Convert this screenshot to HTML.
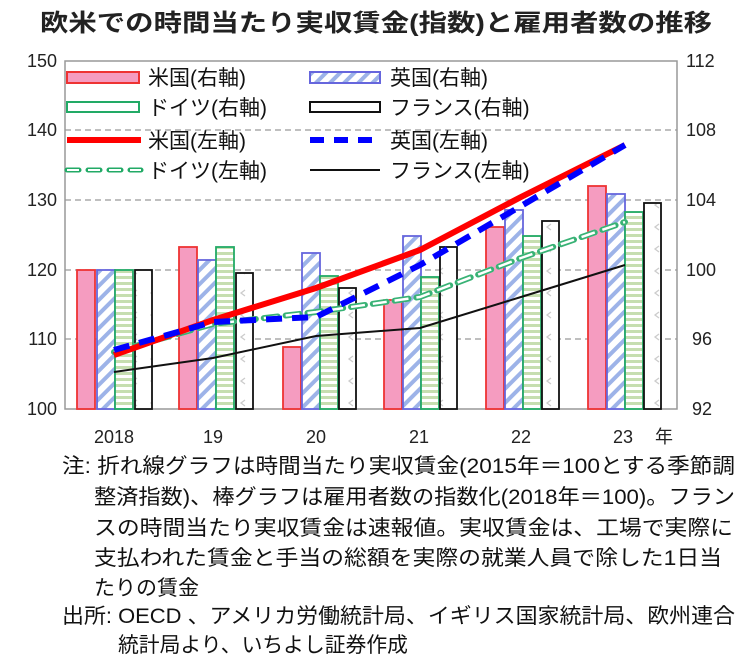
<!DOCTYPE html><html><head><meta charset="utf-8"><style>body{margin:0;background:#fff}svg{display:block}text{font-family:"Liberation Sans","Noto Sans CJK JP",sans-serif}</style></head><body>
<svg width="750" height="662" xmlns="http://www.w3.org/2000/svg">
<defs>
<pattern id="pb" width="10" height="10" patternUnits="userSpaceOnUse" patternTransform="rotate(45)"><rect width="10" height="10" fill="#fff"/><rect width="4" height="10" fill="#9db3e8"/></pattern>
<pattern id="pg" width="6" height="6" patternUnits="userSpaceOnUse"><rect width="6" height="6" fill="#fff"/><rect width="6" height="3" fill="#c6deb0"/></pattern>
<pattern id="pk" width="18" height="22" patternUnits="userSpaceOnUse"><rect width="18" height="22" fill="#fff"/><path d="M11 4 l-4 3 l4 3" stroke="#ccc" fill="none" stroke-width="1.3"/></pattern>
</defs>
<text x="40" y="31" textLength="672" lengthAdjust="spacingAndGlyphs" font-size="24" font-weight="bold" fill="#222">欧米での時間当たり実収賃金(指数)と雇用者数の推移</text>
<g stroke="#999" stroke-dasharray="6,4" stroke-width="1.3">
<line x1="65" y1="130" x2="677" y2="130"/><line x1="65" y1="200" x2="677" y2="200"/><line x1="65" y1="270" x2="677" y2="270"/><line x1="65" y1="339" x2="677" y2="339"/>
</g>
<rect x="65" y="61" width="612" height="348" fill="none" stroke="#999" stroke-width="1.5"/>
<g font-size="18" fill="#222" text-anchor="end">
<text x="57" y="67">150</text><text x="57" y="136">140</text><text x="57" y="206">130</text><text x="57" y="276">120</text><text x="57" y="345">110</text><text x="57" y="415">100</text>
</g>
<g font-size="18" fill="#222" text-anchor="start">
<text x="686" y="67">112</text><text x="686" y="136">108</text><text x="686" y="206">104</text><text x="686" y="276">100</text><text x="692" y="345">96</text><text x="692" y="415">92</text>
</g>
<g font-size="18" fill="#222" text-anchor="middle">
<text x="114" y="443">2018</text><text x="213" y="443">19</text><text x="316" y="443">20</text><text x="419" y="443">21</text><text x="521" y="443">22</text><text x="623" y="443">23</text><text x="664" y="443">年</text>
</g>
<g stroke-width="1.8">
<rect x="77" y="270" width="18" height="139" fill="#f59cc0" stroke="#e33"/><rect x="97" y="270" width="18" height="139" fill="url(#pb)" stroke="#66d"/><rect x="115" y="270" width="18" height="139" fill="url(#pg)" stroke="#2a6"/><rect x="135" y="270" width="17" height="139" fill="url(#pk)" stroke="#111"/>
<rect x="179" y="247" width="18" height="162" fill="#f59cc0" stroke="#e33"/><rect x="198" y="260" width="18" height="149" fill="url(#pb)" stroke="#66d"/><rect x="216" y="247" width="18" height="162" fill="url(#pg)" stroke="#2a6"/><rect x="236" y="273" width="17" height="136" fill="url(#pk)" stroke="#111"/>
<rect x="283" y="347" width="18" height="62" fill="#f59cc0" stroke="#e33"/><rect x="302" y="253" width="18" height="156" fill="url(#pb)" stroke="#66d"/><rect x="320" y="276" width="18" height="133" fill="url(#pg)" stroke="#2a6"/><rect x="339" y="288" width="17" height="121" fill="url(#pk)" stroke="#111"/>
<rect x="384" y="300" width="18" height="109" fill="#f59cc0" stroke="#e33"/><rect x="403" y="236" width="18" height="173" fill="url(#pb)" stroke="#66d"/><rect x="421" y="277" width="18" height="132" fill="url(#pg)" stroke="#2a6"/><rect x="440" y="247" width="17" height="162" fill="url(#pk)" stroke="#111"/>
<rect x="486" y="227" width="18" height="182" fill="#f59cc0" stroke="#e33"/><rect x="505" y="210" width="18" height="199" fill="url(#pb)" stroke="#66d"/><rect x="523" y="236" width="18" height="173" fill="url(#pg)" stroke="#2a6"/><rect x="542" y="221" width="17" height="188" fill="url(#pk)" stroke="#111"/>
<rect x="588" y="186" width="18" height="223" fill="#f59cc0" stroke="#e33"/><rect x="607" y="194" width="18" height="215" fill="url(#pb)" stroke="#66d"/><rect x="625" y="212" width="18" height="197" fill="url(#pg)" stroke="#2a6"/><rect x="644" y="203" width="17" height="206" fill="url(#pk)" stroke="#111"/>
</g>
<polyline points="114,372 213,358 316,336 420,328 521,297 625,265" fill="none" stroke="#111" stroke-width="2"/>
<polyline points="114,352 213,324 316,312 420,297 521,258 625,222" fill="none" stroke="#fff" stroke-width="6" stroke-dasharray="14,8" stroke-linecap="round"/>
<polyline points="114,352 213,324 316,312 420,297 521,258 625,222" fill="none" stroke="#2a6" stroke-width="6" stroke-dasharray="14,8" stroke-linecap="round" opacity="0.9"/>
<polyline points="114,352 213,324 316,312 420,297 521,258 625,222" fill="none" stroke="#fff" stroke-width="2.5" stroke-dasharray="14,8"/>
<polyline points="114,355 213,320 316,288 420,250 521,197 625,145" fill="none" stroke="#f00" stroke-width="6"/>
<polyline points="114,350 213,322 316,317 420,265 521,206 625,145" fill="none" stroke="#00f" stroke-width="6" stroke-dasharray="16,10"/>
<rect x="67" y="72" width="72" height="11" fill="#f59cc0" stroke="#e33" stroke-width="2"/>
<rect x="310" y="72" width="70" height="11" fill="url(#pb)" stroke="#66d" stroke-width="2"/>
<rect x="67" y="102" width="72" height="10" fill="#fff" stroke="#2a6" stroke-width="2"/>
<rect x="310" y="102" width="70" height="10" fill="#fff" stroke="#111" stroke-width="2"/>
<line x1="67" y1="140" x2="141" y2="140" stroke="#f00" stroke-width="6"/>
<line x1="310" y1="140" x2="380" y2="140" stroke="#00f" stroke-width="6" stroke-dasharray="14,10"/>
<line x1="67" y1="170" x2="141" y2="170" stroke="#2a6" stroke-width="5" stroke-dasharray="12,9" stroke-linecap="round"/>
<line x1="67" y1="170" x2="141" y2="170" stroke="#fff" stroke-width="2" stroke-dasharray="12,9"/>
<line x1="310" y1="170" x2="380" y2="170" stroke="#111" stroke-width="2"/>
<g font-size="21" fill="#111">
<text x="148" y="85">米国(右軸)</text><text x="390" y="85">英国(右軸)</text>
<text x="148" y="115">ドイツ(右軸)</text><text x="390" y="115">フランス(右軸)</text>
<text x="148" y="148">米国(左軸)</text><text x="390" y="148">英国(左軸)</text>
<text x="148" y="178">ドイツ(左軸)</text><text x="390" y="178">フランス(左軸)</text>
</g>
<g font-size="21" fill="#111">
<text x="62" y="473" textLength="673" lengthAdjust="spacingAndGlyphs">注: 折れ線グラフは時間当たり実収賃金(2015年＝100とする季節調</text>
<text x="94" y="504" textLength="641" lengthAdjust="spacingAndGlyphs">整済指数)、棒グラフは雇用者数の指数化(2018年＝100)。フラン</text>
<text x="94" y="535" textLength="639" lengthAdjust="spacingAndGlyphs">スの時間当たり実収賃金は速報値。実収賃金は、工場で実際に</text>
<text x="94" y="565" textLength="628" lengthAdjust="spacingAndGlyphs">支払われた賃金と手当の総額を実際の就業人員で除した1日当</text>
<text x="94" y="595">たりの賃金</text>
<text x="62" y="623" textLength="673" lengthAdjust="spacingAndGlyphs">出所: OECD 、アメリカ労働統計局、イギリス国家統計局、欧州連合</text>
<text x="118" y="652" textLength="290" lengthAdjust="spacingAndGlyphs">統計局より、いちよし証券作成</text>
</g>
</svg>
</body></html>
